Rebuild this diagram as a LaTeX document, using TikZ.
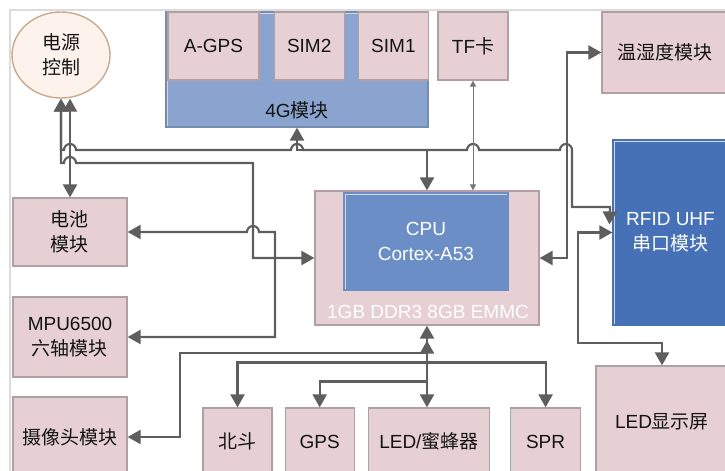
\documentclass[tikz,border=0pt]{standalone}
\usepackage{fontspec}
\setmainfont{Liberation Sans}
\newfontfamily\cjkfont{Noto Sans CJK SC}
\newcommand\zhs[1]{{\cjkfont #1}}
\newcommand\blkfont{\fontsize{9.5}{12.5}\selectfont}
\usepackage{tikz}
\usetikzlibrary{arrows.meta,calc,positioning,shapes.geometric}
\definecolor{fillblk}{HTML}{E6D0D3}
\definecolor{edgeblk}{HTML}{B49EA1}
\definecolor{filllte}{HTML}{8AA3CF}
\definecolor{fillcpu}{HTML}{6B8EC6}
\definecolor{fillrfid}{HTML}{4671B6}
\definecolor{fillpwr}{HTML}{FDF3EC}
\definecolor{edgepwr}{HTML}{C9AA8E}
\definecolor{wiregray}{HTML}{5E5E5E}
\definecolor{framegray}{HTML}{DCDCDC}
\tikzset{
  blk/.style={draw=edgeblk, line width=0.6pt, fill=fillblk, align=center, inner sep=0pt,
    font=\blkfont, text=black!92,
    path picture={\draw[line width=2pt, black!16]
      (path picture bounding box.south west) |- (path picture bounding box.north east);}},
  pwr/.style={ellipse, draw=edgepwr, line width=0.7pt, fill=fillpwr, align=center, inner sep=0pt,
    minimum width=49pt, minimum height=43pt, font=\blkfont, text=black!92},
  lbl/.style={font=\blkfont, inner sep=0pt, text=black!92},
  arr/.style={line width=1.1pt, draw=wiregray},
  thinarr/.style={line width=0.5pt, draw=wiregray!85,
    {Triangle[length=3pt,width=3pt]}-{Triangle[length=3pt,width=3pt]}},
  hop/.style={insert path={arc[start angle=180, end angle=0, radius=3pt]}},
  frameline/.style={draw=framegray, line width=0.6pt},
}
\begin{document}
\begin{tikzpicture}[x=0.5pt, y=-0.5pt, >={Triangle[length=6.5pt,width=7pt]}]
\path[use as bounding box, clip] (0,0) rectangle (725,471);
\draw[frameline] (10,480) |- (730,10);

\node[pwr] (b_pwr) at (61,55) {\zhs{电源}\\\zhs{控制}};

\node[blk, fill=filllte, draw=filllte!85!black, minimum width=131pt, minimum height=57.5pt] (b_lte) at (297,69.5) {};
\node[lbl] (t_lte) at (297,110) {4G\zhs{模块}};
\node[blk, minimum width=45.5pt, minimum height=34pt] (b_agps) at (213.5,46) {A-GPS};
\node[blk, minimum width=35pt, minimum height=34pt, right=7pt of b_agps] (b_sim2) {SIM2};
\node[blk, minimum width=35pt, minimum height=34pt, right=6.5pt of b_sim2] (b_sim1) {SIM1};
\node[blk, minimum width=35pt, minimum height=34pt] (b_tf) at (473,46) {TF\zhs{卡}};
\node[blk, minimum width=63pt, minimum height=40.5pt] (b_temp) at (665,52.5) {\zhs{温湿度模块}};
\node[blk, fill=fillrfid, draw=fillrfid, text=white, minimum width=57.5pt, minimum height=92.5pt] (b_rfid) at (670.5,232.5) {RFID UHF\\\zhs{串口模块}};

\node[blk, minimum width=112pt, minimum height=67pt] (b_mem) at (427,258) {};
\node[blk, fill=fillcpu, draw=fillcpu, text=white, minimum width=82pt, minimum height=48.5pt] (b_cpu) at (426,241.5) {CPU\\Cortex-A53};
\node[lbl, text=white] (t_mem) at (428,312) {1GB DDR3 8GB EMMC};

\node[blk, minimum width=57pt, minimum height=34pt] (b_bat) at (70,232) {\zhs{电池}\\\zhs{模块}};
\node[blk, minimum width=57pt, minimum height=40pt] (b_mpu) at (70,337) {MPU6500\\\zhs{六轴模块}};
\node[blk, minimum width=57pt, minimum height=40pt] (b_cam) at (70,437) {\zhs{摄像头模块}};

\node[blk, minimum width=34.5pt, minimum height=33.5pt] (b_bd) at (237.5,441.5) {\zhs{北斗}};
\node[blk, minimum width=34.5pt, minimum height=33.5pt, right=6pt of b_bd] (b_gps) {GPS};
\node[blk, minimum width=60.5pt, minimum height=33.5pt, right=6.5pt of b_gps] (b_led) {LED/\zhs{蜜蜂器}};
\node[blk, minimum width=35pt, minimum height=33.5pt, right=10pt of b_led] (b_spr) {SPR};
\node[blk, minimum width=66pt, minimum height=56pt] (b_disp) at (662,422) {LED\zhs{显示屏}};

\coordinate (j_t) at ($(b_mem.east)+(27,0)$);
\coordinate (j_r) at ($(b_mem.east)+(38,0)$);

% power lines
\draw[arr, <->] (b_pwr.south) |- (64,150) [hop] -- (291,150) [hop] -- (467,150) [hop]
  -- (560,150) [hop] -- (572,207) -- (610,207) -- ($(b_rfid.west)+(-3,-8)$);
\draw[arr, <->] (b_pwr.south) |- (64,163) [hop] -- (253,163) |- (b_mem.west);
\draw[arr, <->] (b_pwr.south -| b_bat.north) -- (b_bat.north);
\draw[arr, <->] (b_bat.east) -- (247,232) [hop] -- (275,232) |- (b_mpu.east);

% cpu top and right
\draw[arr, <->] (b_lte.south) |- (427,150) -- (b_mem.north);
\draw[thinarr] (b_tf.south) -- (b_tf.south |- b_mem.north);
\draw[arr, <->] (b_temp.west) -| (j_t) -- (b_mem.east);
\draw[arr, ->] (j_r) |- (b_rfid.west);
\draw[arr, ->] (j_r) -- ++(0,85) -| (b_disp.north);

% cpu bottom
\draw[arr, <->] (b_mem.south) -- (b_mem.south |- b_led.north);
\draw[arr, <->] (b_cam.east) -| (180,353) -| ($(b_mem.south)+(0,15)$);
\draw[arr, <->] (b_bd.north) |- ($(b_spr.north)+(0,-45)$) -- (b_spr.north);
\draw[arr, ->] ($(b_mem.south |- b_led.north)+(0,-26)$) -| (b_gps.north);

\end{tikzpicture}
\end{document}
